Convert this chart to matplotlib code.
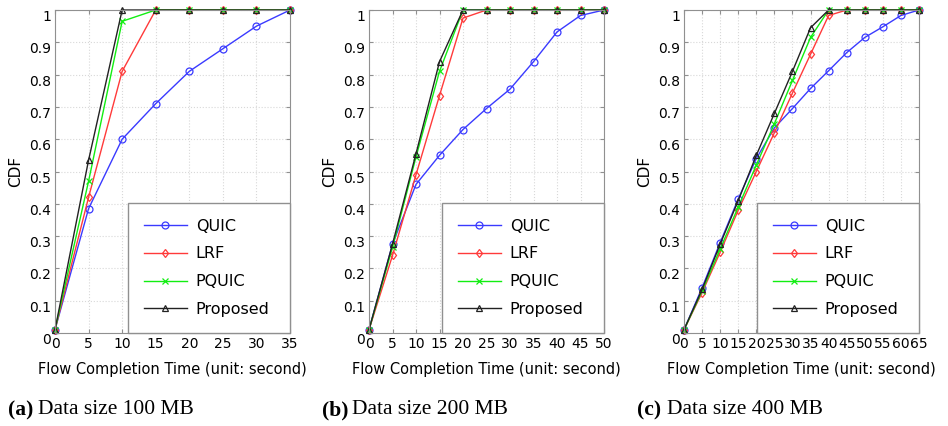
import matplotlib
matplotlib.use("Agg")
import matplotlib.pyplot as plt

# x positions (seconds) for each panel
x_100 = [0, 5, 10, 15, 20, 25, 30, 35]
x_200 = [0, 5, 10, 15, 20, 25, 30, 35, 40, 45, 50]
x_400 = [0, 5, 10, 15, 20, 25, 30, 35, 40, 45, 50, 55, 60, 65]

# CDF values
quic_100 = [0.01, 0.385, 0.60, 0.71, 0.81, 0.88, 0.95, 1.0]
lrf_100 = [0.01, 0.42, 0.81, 1.0, 1.0, 1.0, 1.0, 1.0]
pquic_100 = [0.01, 0.47, 0.965, 1.0, 1.0, 1.0, 1.0, 1.0]
prop_100 = [0.01, 0.535, 1.0, 1.0, 1.0, 1.0, 1.0, 1.0]

quic_200 = [0.01, 0.275, 0.46, 0.55, 0.63, 0.695, 0.755, 0.84, 0.932, 0.983, 1.0]
lrf_200 = [0.01, 0.24, 0.49, 0.735, 0.975, 1.0, 1.0, 1.0, 1.0, 1.0, 1.0]
pquic_200 = [0.01, 0.265, 0.545, 0.81, 1.0, 1.0, 1.0, 1.0, 1.0, 1.0, 1.0]
prop_200 = [0.01, 0.275, 0.555, 0.84, 1.0, 1.0, 1.0, 1.0, 1.0, 1.0, 1.0]

quic_400 = [0.01, 0.14, 0.28, 0.415, 0.54, 0.635, 0.695, 0.757, 0.812, 0.868, 0.915, 0.948, 0.983, 1.0]
lrf_400 = [0.01, 0.125, 0.25, 0.38, 0.50, 0.62, 0.743, 0.863, 0.983, 1.0, 1.0, 1.0, 1.0, 1.0]
pquic_400 = [0.01, 0.13, 0.26, 0.39, 0.52, 0.648, 0.782, 0.915, 1.0, 1.0, 1.0, 1.0, 1.0, 1.0]
prop_400 = [0.01, 0.135, 0.275, 0.41, 0.55, 0.68, 0.81, 0.945, 1.0, 1.0, 1.0, 1.0, 1.0, 1.0]

labels = ["QUIC", "LRF", "PQUIC", "Proposed"]
captions = [("(a)", "Data size 100 MB"), ("(b)", "Data size 200 MB"), ("(c)", "Data size 400 MB")]
y_ticks = [0, 0.1, 0.2, 0.3, 0.4, 0.5, 0.6, 0.7, 0.8, 0.9, 1]
y_ticklabels = ["0", "0.1", "0.2", "0.3", "0.4", "0.5", "0.6", "0.7", "0.8", "0.9", "1"]

panels = [
    (x_100, [quic_100, lrf_100, pquic_100, prop_100]),
    (x_200, [quic_200, lrf_200, pquic_200, prop_200]),
    (x_400, [quic_400, lrf_400, pquic_400, prop_400]),
]

styles = [
    dict(color="#3a3aff", marker="o", markersize=5, markerfacecolor="none"),
    dict(color="#ff3a3a", marker="d", markersize=4.5, markerfacecolor="none"),
    dict(color="#11ee11", marker="x", markersize=4.5),
    dict(color="#222222", marker="^", markersize=5, markerfacecolor="none"),
]

fig = plt.figure(figsize=(9.48, 4.26), dpi=100)
lefts = [55, 369, 684]
cap_x = [8, 322, 637]
W, H = 948.0, 426.0

for i, (xs, series) in enumerate(panels):
    ax = fig.add_axes([lefts[i] / W, (H - 333) / H, 235 / W, 323 / H])
    for ys, lab, st in zip(series, labels, styles):
        ax.plot(xs, ys, lw=1.0, markeredgewidth=0.9, label=lab, clip_on=False, **st)
    ax.set_xlim(0, xs[-1])
    ax.set_ylim(0, 1)
    ax.set_xticks(xs)
    ax.set_xticklabels([str(v) for v in xs], fontsize=10)
    ax.set_yticks(y_ticks)
    ax.set_yticklabels(y_ticklabels, fontsize=10)
    for lbl in ax.get_yticklabels():
        lbl.set_va("top")
    ax.tick_params(direction="in", length=3, color="#909090", top=True, right=True, pad=3)
    ax.grid(True, color="#d8d8d8", linestyle=":", linewidth=0.8)
    for sp in ax.spines.values():
        sp.set_color("#909090")
    ax.set_xlabel("Flow Completion Time (unit: second)", fontsize=10.5, labelpad=8)
    ax.set_ylabel("CDF", fontsize=11, labelpad=4)
    leg = ax.legend(loc="lower left", bbox_to_anchor=(0.31, 0, 0.69, 0.4), mode="expand",
                    fontsize=11.5, borderaxespad=0, fancybox=False,
                    handlelength=2.7, handletextpad=0.55, labelspacing=0.8,
                    borderpad=1.0, edgecolor="#909090", framealpha=1)
    leg.get_frame().set_linewidth(1.0)
    fig.text(cap_x[i] / W, 1 - 410 / H, captions[i][0], fontsize=15.5, family="Liberation Serif",
             weight="bold", va="center", ha="left")
    fig.text((cap_x[i] + 30) / W, 1 - 410 / H, captions[i][1], fontsize=15.5, family="Liberation Serif",
             va="center", ha="left")

fig.savefig("out.png", dpi=100)
